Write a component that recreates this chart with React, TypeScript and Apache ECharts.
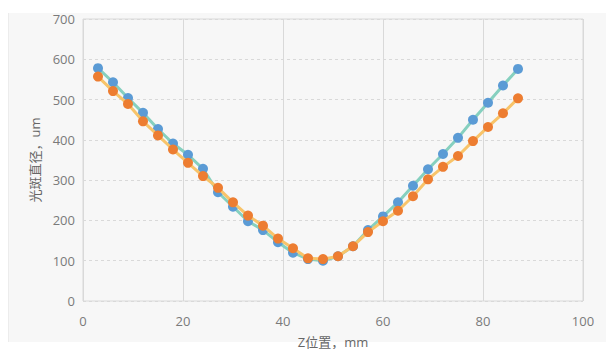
import React, { useEffect, useRef } from "react";
import * as echarts from "echarts";

const zPositions = [3, 6, 9, 12, 15, 18, 21, 24, 27, 30, 33, 36, 39, 42, 45, 48, 51, 54, 57, 60, 63, 66, 69, 72, 75, 78, 81, 84, 87];
const seriesA = [578, 543, 504, 467, 427, 391, 363, 328, 270, 234, 198, 176, 146, 120, 104, 100, 111, 136, 176, 210, 245, 286, 327, 365, 405, 450, 492, 535, 576];
const seriesB = [557, 521, 489, 446, 411, 376, 343, 310, 281, 245, 212, 187, 155, 131, 106, 104, 111, 136, 171, 198, 224, 260, 302, 333, 360, 397, 432, 466, 503];
const xTicks = { min: 0, max: 100, interval: 20 };
const yTicks = { min: 0, max: 700, interval: 100 };
const xName = "Z位置，mm";
const yName = "光斑直径，um";

const FONT = "'Open Sans', 'Noto Sans CJK SC', sans-serif";

export default function App() {
  const ref = useRef<HTMLDivElement>(null);
  useEffect(() => {
    if (!ref.current) return;
    const chart = echarts.init(ref.current, undefined, { renderer: "svg" });
    const mk = (vals: number[]) => zPositions.map((z, i) => [z, vals[i]]);
    chart.setOption({
      animation: false,
      backgroundColor: "transparent",
      grid: {
        left: 83,
        right: 23,
        top: 19,
        bottom: 48,
        outerBoundsMode: "none",
        containLabel: false,
        show: true,
        borderColor: "#d9d9d9",
        borderWidth: 1,
        backgroundColor: "transparent",
      },
      xAxis: {
        type: "value",
        min: xTicks.min,
        max: xTicks.max,
        interval: xTicks.interval,
        name: xName,
        nameLocation: "middle",
        nameGap: 34,
        nameTextStyle: { color: "#666", fontSize: 13, fontFamily: FONT },
        axisLine: { show: false },
        axisTick: { show: false },
        axisLabel: { color: "#7a7a7a", fontSize: 13, margin: 13, fontFamily: FONT },
        splitLine: { show: true, lineStyle: { color: "#d9d9d9", width: 1 } },
      },
      yAxis: {
        type: "value",
        min: yTicks.min,
        max: yTicks.max,
        interval: yTicks.interval,
        name: yName,
        nameLocation: "middle",
        nameGap: 42,
        nameTextStyle: { color: "#666", fontSize: 13, fontFamily: FONT },
        axisLine: { show: false },
        axisTick: { show: false },
        axisLabel: { color: "#7a7a7a", fontSize: 13, margin: 8, fontFamily: FONT },
        splitLine: { show: true, lineStyle: { color: "#d9d9d9", width: 1, type: [3, 3] } },
      },
      series: [
        {
          type: "line",
          data: mk(seriesA),
          symbol: "circle",
          symbolSize: 10,
          itemStyle: { color: "#5b9bd5" },
          lineStyle: { color: "#86d0bf", width: 3 },
          z: 2,
        },
        {
          type: "line",
          data: mk(seriesB),
          symbol: "circle",
          symbolSize: 10,
          itemStyle: { color: "#ed7d31" },
          lineStyle: { color: "#f8c46a", width: 3 },
          z: 3,
        },
      ],
    });
    return () => chart.dispose();
  }, []);
  return (
    <div style={{ position: "absolute", left: 0, top: 0, width: 606, height: 349, background: "#ffffff", overflow: "hidden" }}>
      <div style={{ position: "absolute", left: 8, top: 13, width: 598, height: 329, background: "#f7f7f7", borderLeft: "1px solid #ececec" }} />
      <div ref={ref} style={{ position: "absolute", left: 0, top: 0, width: 606, height: 349 }} />
    </div>
  );
}
